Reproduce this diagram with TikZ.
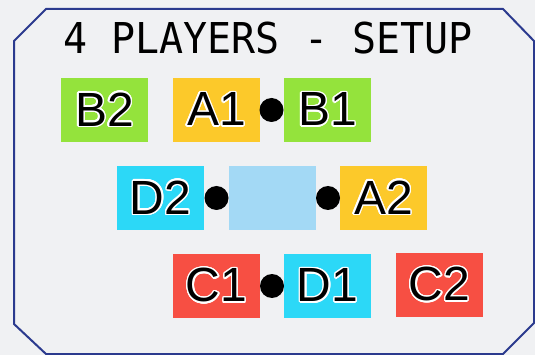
\documentclass[tikz,border=0pt]{standalone}
\usepackage{fontspec}
\setmainfont{Liberation Sans}
\newfontfamily\titlefont{DejaVu Sans Mono}
\usepackage{contour}
\contourlength{1.3pt}
\contournumber{24}
\definecolor{bgc}{HTML}{F0F1F3}
\definecolor{framec}{HTML}{2B3A8E}
\definecolor{grn}{HTML}{94E33C}
\definecolor{ylw}{HTML}{FCC92A}
\definecolor{cyn}{HTML}{2CD8F7}
\definecolor{lbl}{HTML}{A3D9F5}
\definecolor{rd}{HTML}{F74F43}
\newcommand{\lbltxt}[1]{\contour{white}{#1}}
\begin{document}
\begin{tikzpicture}[x=1pt,y=-1pt,
  seat/.style={minimum width=87pt,minimum height=64pt,inner sep=0pt,
    font=\fontsize{48}{48}\selectfont},
  dotnode/.style={circle,fill=black,minimum size=24pt,inner sep=0pt}]
\useasboundingbox[fill=bgc] (0,0) rectangle (535,355);
\draw[framec,line width=2pt] (46,9) -- (503,9) -- (534,41) -- (534,323) -- (503,354)
  -- (46,354) -- (14,324) -- (14,41) -- cycle;
\node[font=\titlefont\fontsize{42.5}{42.5}\selectfont,xscale=0.94,inner sep=0pt] (title) at (268,38) {4 PLAYERS - SETUP};
\node[seat,fill=grn] (b2) at (104.5,110) {\lbltxt{B2}};
\node[seat,fill=ylw] (a1) at (216.5,110) {\lbltxt{A1}};
\node[seat,fill=grn] (b1) at (327.5,110) {\lbltxt{B1}};
\node[seat,fill=cyn] (d2) at (160.5,198) {\lbltxt{D2}};
\node[seat,fill=lbl] (mid) at (272.5,198) {};
\node[seat,fill=ylw] (a2) at (383.5,198) {\lbltxt{A2}};
\node[seat,fill=rd] (c1) at (216.5,286) {\lbltxt{C1}};
\node[seat,fill=cyn] (d1) at (327.5,286) {\lbltxt{D1}};
\node[seat,fill=rd] (c2) at (439.5,285) {\lbltxt{C2}};
\node[dotnode] (dab) at (271.5,110) {};
\node[dotnode] (ddm) at (216.5,198) {};
\node[dotnode] (dma) at (328,198) {};
\node[dotnode] (dcd) at (272,286) {};
\end{tikzpicture}
\end{document}
